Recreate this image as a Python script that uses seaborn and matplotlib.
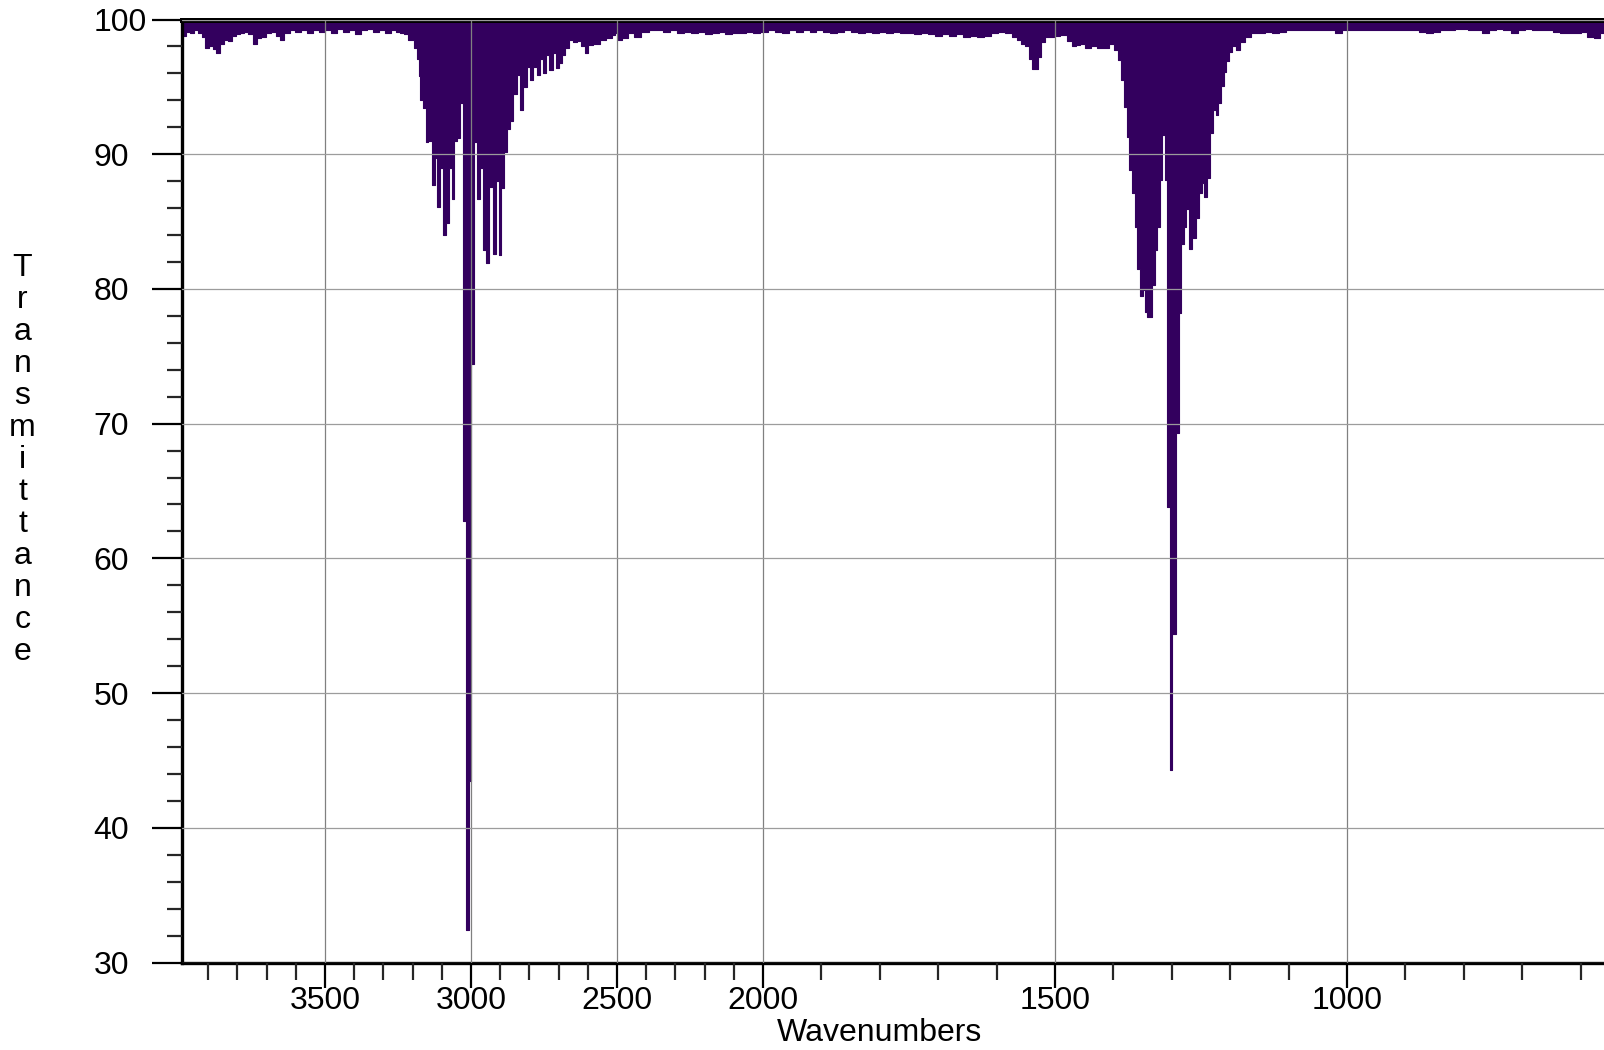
import numpy as np
import pandas as pd
import matplotlib
matplotlib.use("Agg")
import matplotlib.pyplot as plt
from matplotlib.ticker import FixedLocator, FuncFormatter
import seaborn as sns

# wavenumbers (cm-1) and transmittance (%), region by region
wn_left = [3992, 3983, 3969, 3956, 3942, 3928, 3918, 3904, 3891, 3879, 3867, 3853, 3839, 3826, 3812,
           3798, 3785, 3771, 3757, 3740, 3726, 3713, 3695, 3678, 3661, 3648, 3630, 3613, 3593, 3572,
           3551, 3531, 3510, 3490, 3469, 3449, 3428, 3408, 3387, 3366, 3346, 3325, 3305, 3284, 3264]
tr_left = [98.8, 98.8, 99.1, 99.0, 99.2, 99.0, 98.7, 97.9, 98.0, 97.8, 97.5, 98.2, 98.5, 98.4, 98.8,
           98.9, 99.0, 99.1, 98.9, 98.2, 98.6, 98.7, 99.0, 99.1, 98.8, 98.5, 99.0, 99.2, 99.1, 99.2,
           99.0, 99.2, 99.1, 99.2, 99.0, 99.3, 99.1, 99.2, 98.9, 99.2, 99.3, 99.1, 99.2, 99.0, 99.2]

# C-H stretch band
wn_ch = [3250, 3237, 3223, 3209, 3199, 3190, 3183, 3177, 3170, 3161, 3151, 3141, 3130, 3120, 3110,
         3101, 3093, 3082, 3072, 3062, 3052, 3043, 3035, 3023, 3013, 3004, 2996, 2987, 2975, 2964,
         2954, 2944, 2932, 2921, 2911, 2901, 2891, 2882, 2872, 2861, 2849, 2837, 2827, 2815, 2803,
         2793, 2781, 2769, 2759, 2748, 2738, 2726, 2714, 2706, 2695, 2683, 2671, 2658, 2644, 2629,
         2615, 2606, 2593, 2572, 2548, 2526, 2512, 2502, 2490, 2474, 2452, 2430, 2404, 2380]
tr_ch = [99.1, 99.0, 98.9, 98.5, 98.5, 97.9, 97.1, 95.8, 94.0, 93.4, 90.9, 91.0, 87.7, 89.7, 86.1,
         89.0, 84.0, 84.9, 89.0, 86.7, 91.0, 91.2, 93.8, 62.8, 32.4, 43.5, 74.4, 90.9, 86.7, 89.0,
         82.9, 81.9, 87.6, 82.6, 88.0, 82.5, 87.5, 90.2, 91.9, 92.5, 94.5, 95.9, 93.3, 95.0, 96.5,
         95.5, 96.5, 95.9, 97.1, 96.0, 97.4, 96.25, 97.5, 96.4, 96.8, 97.4, 97.9, 98.5, 98.35, 98.4,
         98.0, 97.5, 98.1, 98.2, 98.5, 98.6, 98.85, 99.0, 98.5, 98.6, 99.0, 98.7, 99.1, 99.2]

wn_mid = [2356, 2332, 2308, 2284, 2260, 2236, 2212, 2188, 2164, 2141, 2117, 2093, 2069, 2045, 2021,
          1998, 1986, 1974, 1962, 1950, 1938, 1926, 1914, 1903, 1891, 1879, 1867, 1855, 1843, 1831,
          1819, 1807, 1795, 1783, 1771, 1759, 1747, 1735, 1723, 1711, 1699, 1687, 1675, 1663, 1651,
          1639, 1627, 1615, 1603]
tr_mid = [99.2, 99.1, 99.2, 99.0, 99.1, 99.0, 99.1, 98.9, 99.0, 99.1, 98.9, 99.0, 99.0, 99.1, 99.0,
          99.1, 99.2, 99.1, 99.0, 99.2, 99.1, 99.2, 99.1, 99.2, 99.1, 99.0, 99.1, 99.2, 99.1, 99.0,
          99.1, 99.0, 99.1, 99.0, 99.1, 99.0, 99.0, 98.9, 99.0, 98.9, 98.8, 98.9, 98.8, 98.9, 98.7,
          98.8, 98.7, 98.8, 99.0]

# small band near 1540
wn_small = [1591, 1579, 1569, 1562, 1555, 1548, 1542, 1536, 1531, 1526, 1521, 1514, 1505, 1497, 1486,
            1474, 1467, 1461, 1452, 1444, 1433, 1423, 1413, 1402]
tr_small = [99.1, 99.0, 98.7, 98.5, 98.2, 98.0, 97.1, 96.3, 96.3, 97.2, 98.3, 98.7, 98.7, 98.8, 98.85,
            98.4, 98.0, 98.1, 98.2, 97.9, 98.0, 97.9, 97.9, 98.2]

# bending band around 1306
wn_bend = [1396, 1389, 1384, 1379, 1375, 1371, 1366, 1361, 1357, 1352, 1348, 1344, 1340, 1336, 1332,
           1327, 1323, 1319, 1314, 1310, 1306, 1302, 1296, 1291, 1286, 1281, 1277, 1273, 1268, 1262,
           1256, 1251, 1247, 1243, 1238, 1233, 1227, 1223, 1218, 1213, 1209, 1204, 1199, 1194, 1188,
           1180, 1170, 1158, 1146, 1134, 1122]
tr_bend = [97.7, 97.0, 95.5, 93.5, 91.3, 88.8, 87.1, 84.6, 81.5, 79.5, 79.9, 78.3, 77.9, 77.9, 80.3,
           82.9, 84.6, 88.1, 91.4, 88.1, 63.8, 44.3, 54.4, 69.3, 78.2, 83.3, 84.6, 85.9, 83.0, 83.8,
           85.3, 87.1, 87.9, 86.8, 88.2, 91.6, 93.3, 92.9, 93.8, 95.1, 96.1, 96.9, 97.6, 98.0, 97.7,
           98.35, 98.7, 99.0, 99.0, 99.1, 99.0]

wn_right = [1110, 1098, 1086, 1074, 1062, 1050, 1038, 1026, 1014, 1002, 990, 978, 966, 954, 942,
            930, 918, 906, 894, 882, 870, 858, 846, 834, 822, 810, 798, 787, 775, 763,
            751, 739, 726, 714, 702, 690, 678, 666, 654, 642, 630, 618, 606, 594, 583,
            572, 562, 556]
tr_right = [99.1, 99.2, 99.2, 99.2, 99.2, 99.2, 99.2, 99.2, 99.0, 99.2, 99.2, 99.2, 99.2, 99.2, 99.2,
            99.2, 99.2, 99.2, 99.2, 99.2, 99.1, 99.0, 99.1, 99.2, 99.2, 99.3, 99.3, 99.2, 99.2, 99.0,
            99.2, 99.3, 99.2, 99.0, 99.2, 99.3, 99.2, 99.2, 99.2, 99.1, 99.0, 99.0, 99.0, 99.1, 98.7,
            98.6, 99.0, 99.0]

major_x = [3500, 3000, 2500, 2000, 1500, 1000]
major_y = [30, 40, 50, 60, 70, 80, 90, 100]

PURPLE = "#33005e"
BREAK = 2000  # axis is stretched 2x below this wavenumber
FS = 23


def fwd(x):
    x = np.asarray(x, dtype=float)
    return np.where(x >= BREAK, x - BREAK, 2.0 * (x - BREAK))


def inv(y):
    y = np.asarray(y, dtype=float)
    return np.where(y >= 0, y + BREAK, y / 2.0 + BREAK)


df = pd.DataFrame({
    "wn": wn_left + wn_ch + wn_mid + wn_small + wn_bend + wn_right,
    "T": tr_left + tr_ch + tr_mid + tr_small + tr_bend + tr_right,
}).sort_values("wn")

sns.set_theme(style="ticks")
plt.rcParams["font.family"] = ["Liberation Sans", "DejaVu Sans"]

W, H = 1604, 1050
fig = plt.figure(figsize=(W / 100, H / 100), dpi=100)
ax = fig.add_axes([182 / W, 87.5 / H, 1422 / W, 943 / H])
ax.set_xscale("function", functions=(fwd, inv))

ax.fill_between(df["wn"], df["T"], 100, step="mid", color=PURPLE, lw=0, zorder=1)
sns.lineplot(data=df, x="wn", y="T", drawstyle="steps-mid", color=PURPLE, lw=0.8,
             ax=ax, zorder=1.5)

ax.set_xlim(3990, 560)
ax.set_ylim(30, 100)
ax.set_xlabel("")
ax.set_ylabel("")

minor_x = [w for w in range(3900, 550, -100) if w % 500]
ax.xaxis.set_major_locator(FixedLocator(major_x))
ax.xaxis.set_minor_locator(FixedLocator(minor_x))
ax.xaxis.set_major_formatter(FuncFormatter(lambda v, p: f"{v:.0f}"))
ax.yaxis.set_major_locator(FixedLocator(major_y))
ax.yaxis.set_minor_locator(FixedLocator([v for v in range(32, 100, 2) if v % 10]))
ax.yaxis.set_major_formatter(FuncFormatter(lambda v, p: f"{v:.0f}"))

ax.tick_params(axis="both", colors="black", labelsize=FS, width=1.6, direction="out")
ax.tick_params(axis="x", which="major", length=18, pad=-1)
ax.tick_params(axis="x", which="minor", length=12, width=1.6)
ax.tick_params(axis="y", which="major", length=21.6, pad=42)
ax.tick_params(axis="y", which="minor", length=10.8, width=1.6)
for lab in ax.get_yticklabels():
    lab.set_horizontalalignment("left")

ax.set_axisbelow(False)
ax.xaxis.grid(True, which="major", color="#808080", lw=0.9)
ax.yaxis.grid(True, which="major", color="#9c9c9c", lw=0.9)

ax.spines["right"].set_visible(False)
ax.spines["top"].set_linewidth(3.6)
ax.spines["left"].set_linewidth(2.4)
ax.spines["bottom"].set_linewidth(2.4)
for s in ["top", "left", "bottom"]:
    ax.spines[s].set_color("black")

fig.text(879 / W, 1 - 1041 / H, "Wavenumbers", ha="center", va="baseline",
         fontsize=FS, color="black")
for i, ch in enumerate("Transmittance"):
    fig.text(22.5 / W, 1 - (276 + 32 * i) / H, ch, ha="center", va="baseline",
             fontsize=FS, color="black")

fig.savefig("out.png", dpi=100)
